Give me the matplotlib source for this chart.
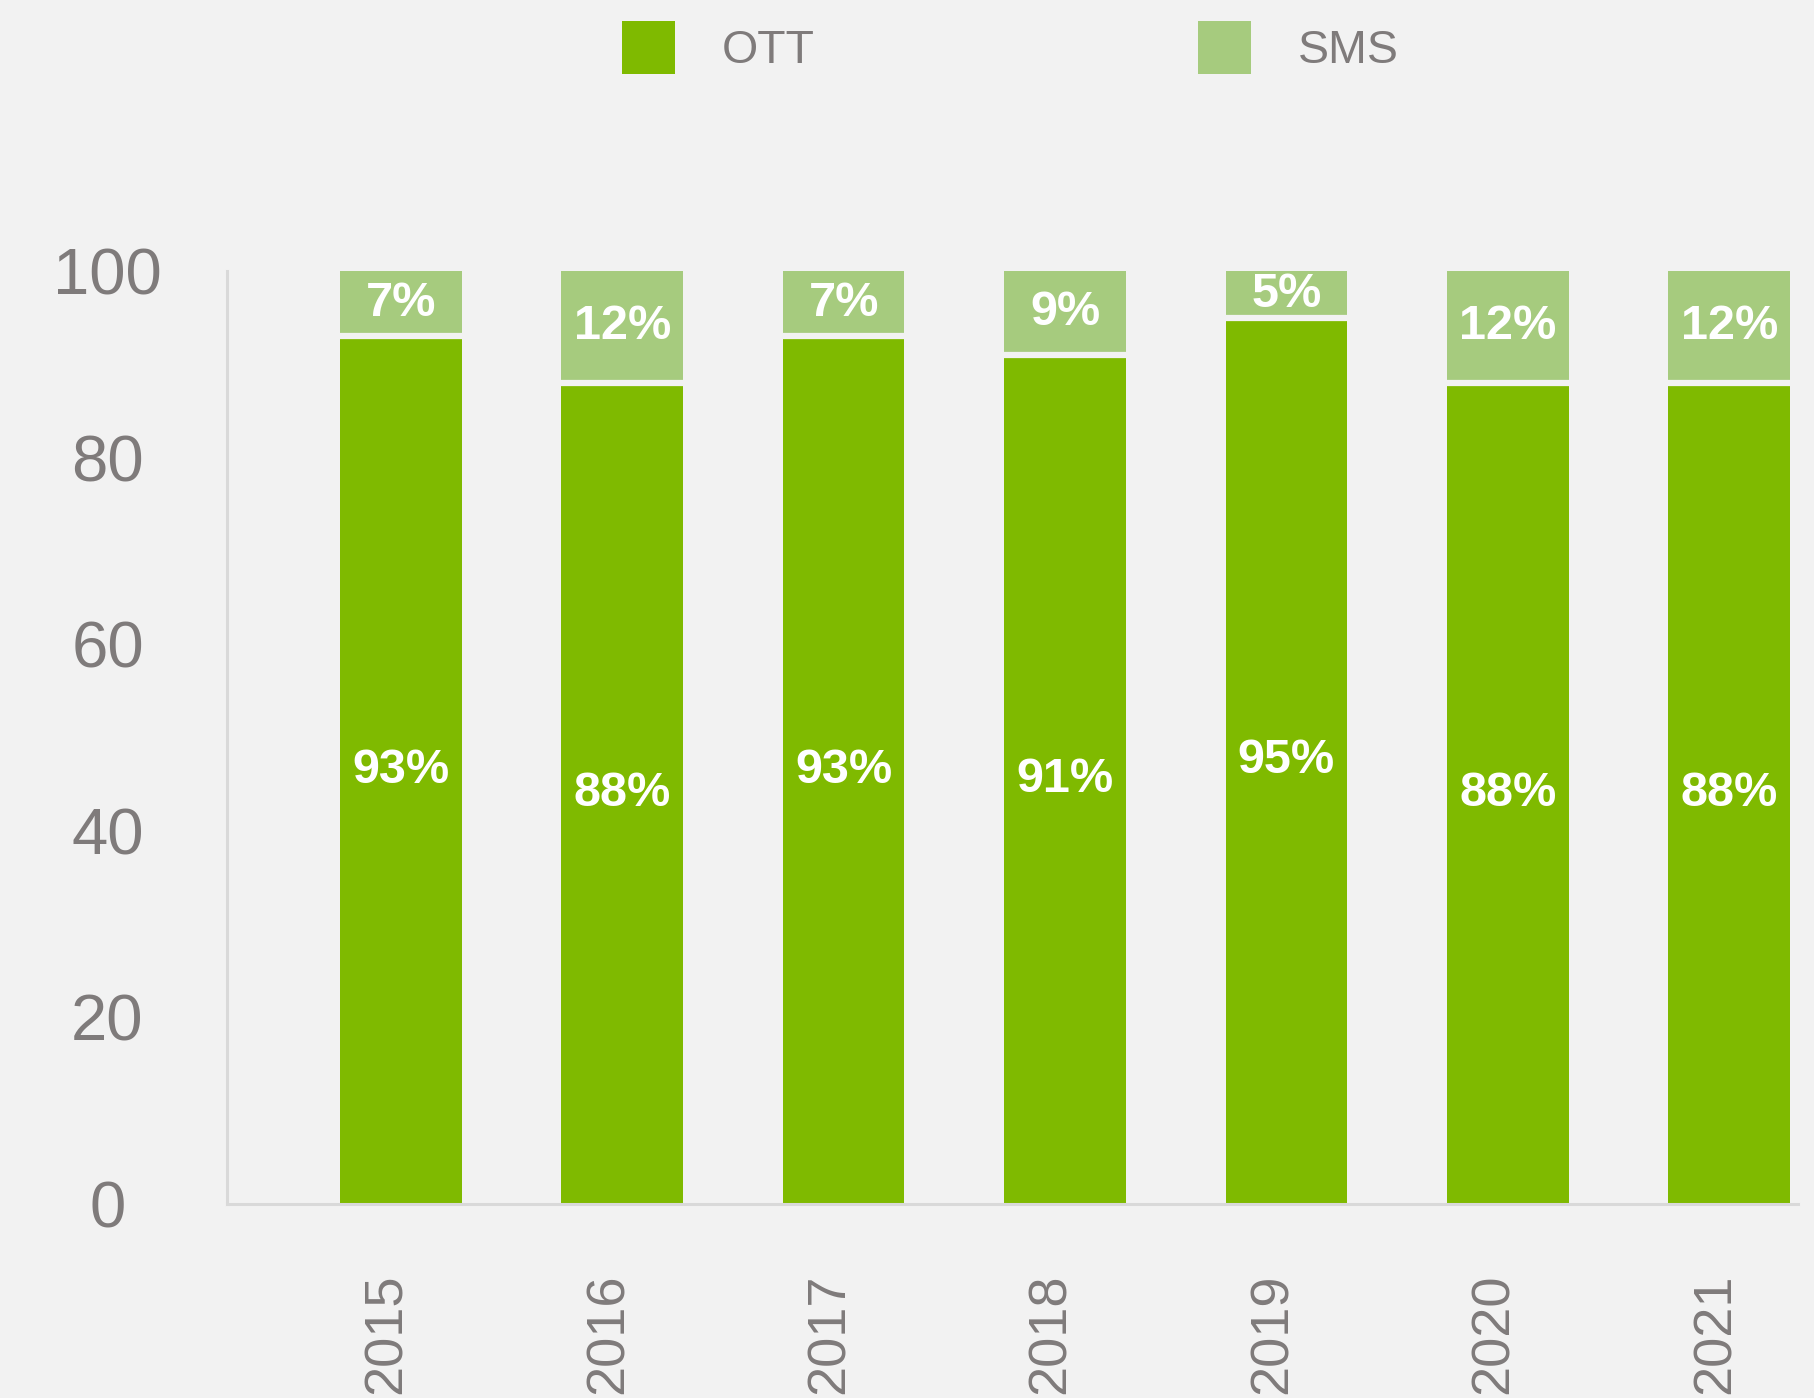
import numpy as np
import matplotlib.pyplot as plt
from matplotlib.transforms import ScaledTranslation

plt.rcParams['font.family'] = ['Liberation Sans', 'DejaVu Sans']

# Share of messages per year (percent)
years = ["2015", "2016", "2017", "2018", "2019", "2020", "2021"]
ott = [93, 88, 93, 91, 95, 88, 88]
sms = [7, 12, 7, 9, 5, 12, 12]

bg = "#f2f2f2"
gray = "#7f7b7b"
green = "#7fba00"
light_green = "#a6cb7e"

fig = plt.figure(figsize=(18.14, 13.98), dpi=100, facecolor=bg)
ax = fig.add_axes([0.1251, 0.1388, 0.8660, 0.6674], facecolor=bg)

x = np.arange(len(years))
w = 0.55
b1 = ax.bar(x, ott, w, color=green, label="OTT", zorder=2)
b2 = ax.bar(x, sms, w, bottom=ott, color=light_green, label="SMS", zorder=2)

# thin gap between the two stacked parts
ax.hlines(ott, x - w / 2, x + w / 2, color=bg, lw=4.5, zorder=3)

for i in range(len(years)):
    ax.text(x[i], ott[i] / 2, f"{ott[i]}%", ha="center", va="center",
            color="white", fontsize=35, fontweight="bold", zorder=4)
    ax.text(x[i], ott[i] + sms[i] / 2, f"{sms[i]}%", ha="center", va="center",
            color="white", fontsize=35, fontweight="bold", zorder=4)

ax.set_xlim(-0.785, 6.31)
ax.set_ylim(0, 100)
ax.set_yticks([0, 20, 40, 60, 80, 100])
ax.set_xticks(x)
ax.set_xticklabels(years, rotation=90)

ax.tick_params(axis="y", length=0, labelsize=47, labelcolor=gray, pad=86)
ax.tick_params(axis="x", length=0, labelsize=39, labelcolor=gray, pad=50)
for lab in ax.get_yticklabels():
    lab.set_horizontalalignment("center")
# nudge the rotated year labels slightly left
shift = ScaledTranslation(-10 / 72, 0, fig.dpi_scale_trans)
for lab in ax.get_xticklabels():
    lab.set_transform(lab.get_transform() + shift)

for s in ["top", "right"]:
    ax.spines[s].set_visible(False)
for s in ["left", "bottom"]:
    ax.spines[s].set_color("#d9d9d9")
    ax.spines[s].set_linewidth(2.2)

fig.legend(handles=[b1, b2], labels=["OTT", "SMS"], loc="center",
           bbox_to_anchor=(0.557, 0.966), ncol=2, frameon=False,
           fontsize=33.5, labelcolor=gray, handlelength=1.14,
           handleheight=1.377, handletextpad=0.99, columnspacing=8.25)

fig.savefig("out.png", dpi=100, facecolor=bg)
